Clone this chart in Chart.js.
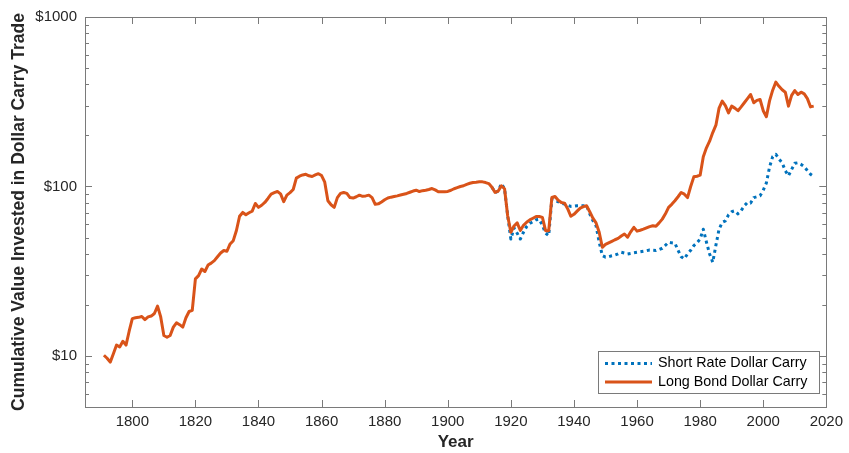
<!DOCTYPE html>
<html>
<head>
<meta charset="utf-8">
<script src="https://cdn.jsdelivr.net/npm/chart.js@4.4.1/dist/chart.umd.min.js"></script>
<style>
  html, body { margin: 0; padding: 0; background: #fff; }
  canvas { display: block; }
</style>
</head>
<body>
<canvas id="carry" width="849" height="453"></canvas>
<script>
// annual observations, 1791-2016
var years = [
  1791, 1792, 1793, 1794, 1795, 1796, 1797, 1798, 1799,
  1800, 1801, 1802, 1803, 1804, 1805, 1806, 1807, 1808, 1809,
  1810, 1811, 1812, 1813, 1814, 1815, 1816, 1817, 1818, 1819,
  1820, 1821, 1822, 1823, 1824, 1825, 1826, 1827, 1828, 1829,
  1830, 1831, 1832, 1833, 1834, 1835, 1836, 1837, 1838, 1839,
  1840, 1841, 1842, 1843, 1844, 1845, 1846, 1847, 1848, 1849,
  1850, 1851, 1852, 1853, 1854, 1855, 1856, 1857, 1858, 1859,
  1860, 1861, 1862, 1863, 1864, 1865, 1866, 1867, 1868, 1869,
  1870, 1871, 1872, 1873, 1874, 1875, 1876, 1877, 1878, 1879,
  1880, 1881, 1882, 1883, 1884, 1885, 1886, 1887, 1888, 1889,
  1890, 1891, 1892, 1893, 1894, 1895, 1896, 1897, 1898, 1899,
  1900, 1901, 1902, 1903, 1904, 1905, 1906, 1907, 1908, 1909,
  1910, 1911, 1912, 1913, 1914, 1915, 1916, 1917, 1918, 1919,
  1920, 1921, 1922, 1923, 1924, 1925, 1926, 1927, 1928, 1929,
  1930, 1931, 1932, 1933, 1934, 1935, 1936, 1937, 1938, 1939,
  1940, 1941, 1942, 1943, 1944, 1945, 1946, 1947, 1948, 1949,
  1950, 1951, 1952, 1953, 1954, 1955, 1956, 1957, 1958, 1959,
  1960, 1961, 1962, 1963, 1964, 1965, 1966, 1967, 1968, 1969,
  1970, 1971, 1972, 1973, 1974, 1975, 1976, 1977, 1978, 1979,
  1980, 1981, 1982, 1983, 1984, 1985, 1986, 1987, 1988, 1989,
  1990, 1991, 1992, 1993, 1994, 1995, 1996, 1997, 1998, 1999,
  2000, 2001, 2002, 2003, 2004, 2005, 2006, 2007, 2008, 2009,
  2010, 2011, 2012, 2013, 2014, 2015, 2016
];

// long bond carry, from 1791
var longBond = [
  10.1, 9.7, 9.2, 10.3, 11.6, 11.3, 12.2, 11.6, 14.0,
  16.6, 16.8, 16.9, 17.1, 16.4, 17.0, 17.2, 17.8, 19.7, 17.0,
  13.2, 12.9, 13.2, 14.8, 15.7, 15.3, 14.8, 16.8, 18.3, 18.6,
  28.5, 29.8, 32.6, 31.5, 34.4, 35.3, 36.5, 38.5, 40.5, 41.9,
  41.5, 45.8, 47.9, 55.0, 66.7, 70.3, 68.1, 70.0, 71.5, 79.4,
  75.3, 77.5, 80.5, 85.0, 90.1, 92.0, 93.4, 90.5, 81.3, 89.0,
  92.0, 96.0, 112, 115, 117, 118, 115.6, 114.5, 117, 119,
  116, 106, 82.4, 78.0, 75.3, 86.0, 91.0, 92.2, 91.0, 86.0,
  85.5, 87.0, 88.9, 87.5, 88.0, 88.9, 86.0, 78.5, 79.0, 81.0,
  83.5, 85.5, 86.5, 87.3, 88.0, 89.0, 90.0, 91.0, 92.5, 94.0,
  95.1, 93.4, 94.5, 95.1, 96.0, 97.3, 95.5, 93.0, 93.0, 93.0,
  93.5, 95.0, 97.0, 98.5, 100, 101, 103, 104.5, 105.6, 106,
  106.6, 106.5, 105.5, 104, 99.0, 92.2, 94.0, 101, 97.0, 67.0,
  53.7, 58.5, 61.0, 55.0, 59.0, 61.5, 63.5, 65.0, 66.5, 66.5,
  65.7, 54.9, 54.9, 86.1, 87.3, 83.0, 80.5, 79.8, 74.0, 66.7,
  68.5, 71.5, 74.5, 76.0, 77.0, 71.0, 65.0, 61.0, 53.7, 43.8,
  45.5, 46.5, 47.5, 48.5, 49.4, 51.0, 52.4, 50.2, 54.0, 57.4,
  54.5, 55.2, 56.0, 57.0, 58.0, 58.7, 58.2, 61.0, 64.2, 69.0,
  75.3, 78.5, 82.4, 87.0, 92.2, 90.1, 86.0, 100, 114, 115,
  116.6, 150, 169, 185, 208, 230, 290, 319, 300, 272,
  298, 290, 280, 295, 312, 330, 349, 312, 322, 326,
  280, 258, 320, 370, 413, 390, 372, 360, 298, 345,
  368, 349, 360, 352, 330, 295, 298
];

// short rate carry, from 1914 (runs with the long bond before that)
var shortFrom = 1914;
var shortRate = [
  99.0, 92.2, 94.0, 104, 97.0, 67.0,
  49.0, 57.0, 53.0, 49.0, 53.7, 58.0, 60.5, 62.0, 63.7, 64.0,
  59.0, 53.0, 51.3, 84.2, 82.5, 81.3, 79.5, 78.7, 77.5, 76.3,
  76.5, 77.0, 77.0, 77.0, 77.0, 69.0, 63.0, 58.7, 46.9, 39.1,
  38.3, 38.5, 39.0, 39.4, 40.0, 40.9, 40.5, 40.0, 40.3, 40.6,
  40.9, 41.2, 41.5, 41.8, 42.2, 42.0, 41.9, 42.5, 43.2, 45.0,
  46.9, 46.5, 46.3, 42.0, 38.5, 37.4, 40.0, 42.0, 44.8, 46.5,
  49.0, 56.0, 47.0, 40.0, 35.7, 45.0, 56.0, 61.4, 62.7, 68.0,
  71.0, 71.9, 69.0, 72.0, 77.0, 80.5, 79.8, 86.0, 87.0, 88.2,
  95.0, 105, 130, 150, 155, 145, 138, 124, 115.6, 126,
  137, 138, 135, 131, 124, 118, 114.5
];

var xTicks = [1800, 1820, 1840, 1860, 1880, 1900, 1920, 1940, 1960, 1980, 2000, 2020];
var yTicks = [10, 100, 1000];
var yMinor = [6, 7, 8, 9, 20, 30, 40, 50, 60, 70, 80, 90, 200, 300, 400, 500, 600, 700, 800, 900];

var FONT = '"Liberation Sans", Arial, Helvetica, sans-serif';
var BLUE = '#0072BD';
var ORANGE = '#D95319';
var AXIS = '#7a7a7a';

var longPts = longBond.map(function(v, i) { return {x: years[i], y: v}; });
var s0 = years.indexOf(shortFrom);
var shortPts = shortRate.map(function(v, i) { return {x: years[s0 + i], y: v}; });

// box, inward ticks on all four sides, and the boxed legend
var frame = {
  id: 'frame',
  afterDatasetsDraw: function(chart) {
    var ctx = chart.ctx, a = chart.chartArea;
    var sx = chart.scales.x, sy = chart.scales.y;
    ctx.save();
    ctx.strokeStyle = AXIS;
    ctx.lineWidth = 1;
    ctx.beginPath();
    xTicks.forEach(function(v) {
      var px = Math.round(sx.getPixelForValue(v)) + 0.5;
      ctx.moveTo(px, a.bottom); ctx.lineTo(px, a.bottom - 7);
      ctx.moveTo(px, a.top); ctx.lineTo(px, a.top + 7);
    });
    yTicks.concat(yMinor).forEach(function(v) {
      var len = yTicks.indexOf(v) >= 0 ? 7 : 4;
      var py = Math.round(sy.getPixelForValue(v)) + 0.5;
      ctx.moveTo(a.left, py); ctx.lineTo(a.left + len, py);
      ctx.moveTo(a.right, py); ctx.lineTo(a.right - len, py);
    });
    ctx.stroke();
    ctx.strokeRect(Math.round(a.left) + 0.5, Math.round(a.top) + 0.5,
                   Math.round(a.right - a.left), Math.round(a.bottom - a.top));

    // legend
    var items = [chart.data.datasets[0], chart.data.datasets[1]];
    var bx = 598, by = 351, bw = 221, bh = 42;
    ctx.fillStyle = '#fff';
    ctx.fillRect(bx, by, bw, bh);
    ctx.strokeStyle = AXIS;
    ctx.strokeRect(bx + 0.5, by + 0.5, bw, bh);
    ctx.font = '14.3px ' + FONT;
    ctx.textBaseline = 'middle';
    items.forEach(function(ds, i) {
      var ly = by + 12.5 + i * 18.5;
      ctx.beginPath();
      ctx.strokeStyle = ds.borderColor;
      ctx.lineWidth = ds.borderWidth;
      ctx.setLineDash(ds.borderDash || []);
      ctx.moveTo(bx + 7, ly); ctx.lineTo(bx + 54, ly);
      ctx.stroke();
      ctx.setLineDash([]);
      ctx.fillStyle = '#000';
      ctx.fillText(ds.label, bx + 60, ly);
    });
    ctx.restore();
  }
};

new Chart(document.getElementById('carry').getContext('2d'), {
  type: 'line',
  data: {
    datasets: [{
      label: 'Short Rate Dollar Carry',
      data: shortPts,
      borderColor: BLUE,
      borderWidth: 3,
      borderDash: [3, 3.5],
      order: 2
    }, {
      label: 'Long Bond Dollar Carry',
      data: longPts,
      borderColor: ORANGE,
      borderWidth: 3,
      order: 1
    }]
  },
  options: {
    responsive: false,
    animation: false,
    devicePixelRatio: 1,
    layout: { padding: { top: 14, right: 20, left: 0, bottom: 0 } },
    elements: {
      point: { radius: 0 },
      line: { tension: 0, borderJoinStyle: 'round', fill: false }
    },
    plugins: { legend: { display: false }, tooltip: { enabled: false } },
    scales: {
      x: {
        type: 'linear',
        min: 1785,
        max: 2020,
        afterBuildTicks: function(s) { s.ticks = xTicks.map(function(v) { return {value: v}; }); },
        afterFit: function(s) { s.height = 46; },
        grid: { display: false, drawTicks: false },
        border: { display: false },
        ticks: { color: '#262626', font: { family: FONT, size: 15 }, padding: 6, maxRotation: 0,
                 callback: function(v) { return String(v); } },
        title: { display: true, text: 'Year', color: '#262626',
                 font: { family: FONT, size: 17, weight: 'bold' }, padding: { top: 0, bottom: 0 } }
      },
      y: {
        type: 'logarithmic',
        min: 5,
        max: 1000,
        afterBuildTicks: function(s) { s.ticks = yTicks.map(function(v) { return {value: v}; }); },
        afterFit: function(s) { s.width = 85; },
        grid: { display: false, drawTicks: false },
        border: { display: false },
        ticks: { color: '#262626', font: { family: FONT, size: 15 }, padding: 8,
                 callback: function(v) { return '$' + v; } },
        title: { display: true, text: 'Cumulative Value Invested in Dollar Carry Trade', color: '#262626',
                 font: { family: FONT, size: 17.5, weight: 'bold' }, padding: { top: 9, bottom: 0 } }
      }
    }
  },
  plugins: [frame]
});
</script>
</body>
</html>
